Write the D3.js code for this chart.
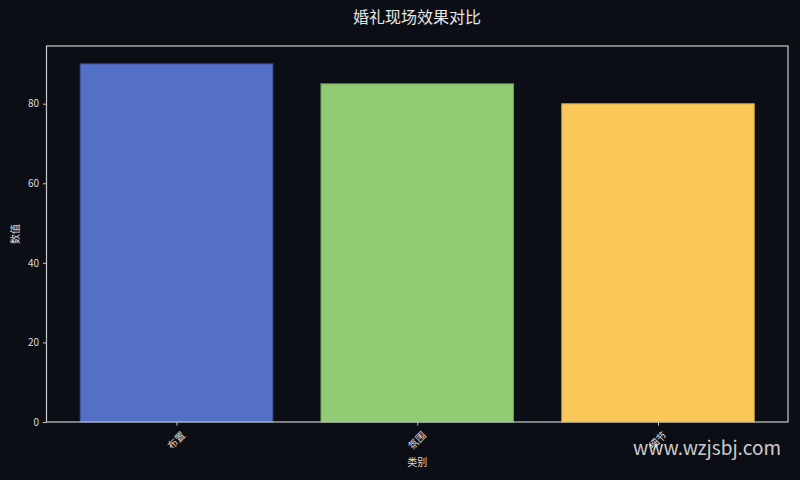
<!DOCTYPE html>
<html><head><meta charset="utf-8">
<script src="https://cdn.jsdelivr.net/npm/d3@7"></script>
<style>
html,body{margin:0;padding:0;background:#0b0e14;}
svg{display:block;}
text{font-family:"Noto Sans CJK SC","DejaVu Sans",sans-serif;}
</style></head>
<body>
<svg id="chart" width="800" height="480"></svg>
<script>
const categories = ["布置", "氛围", "细节"];
const values = [90, 85, 80];
const colors = ["#5470c6", "#91cc75", "#fac858"];
const edgeColors = ["#3f539a", "#6c9a57", "#bd9641"];
const yTicks = [0, 20, 40, 60, 80];

const W = 800, H = 480;
const m = {left: 46.5, right: 12, top: 46, bottom: 58};
const svg = d3.select("#chart");
svg.append("rect").attr("width", W).attr("height", H).attr("fill", "#0b0e14");

const pw = W - m.left - m.right, ph = H - m.top - m.bottom;
const g = svg.append("g").attr("transform", `translate(${m.left},${m.top})`);

const x = d3.scaleLinear().domain([-0.54, categories.length - 1 + 0.54]).range([0, pw]);
const y = d3.scaleLinear().domain([0, d3.max(values) * 1.05]).range([ph, 0]);
const bw = 0.8;

g.selectAll("rect.bar").data(values).join("rect")
  .attr("class", "bar")
  .attr("x", (d, i) => x(i - bw / 2))
  .attr("width", (d, i) => x(i + bw / 2) - x(i - bw / 2))
  .attr("y", d => y(d))
  .attr("height", d => y(0) - y(d))
  .attr("fill", (d, i) => colors[i])
  .attr("stroke", (d, i) => edgeColors[i])
  .attr("stroke-width", 1);

// spines
g.append("rect").attr("x", 0).attr("y", 0).attr("width", pw).attr("height", ph)
  .attr("fill", "none").attr("stroke", "#c8c8c8").attr("stroke-width", 1.2);

// y axis
const yAxis = g.append("g").call(d3.axisLeft(y).tickValues(yTicks).tickSize(3.5).tickPadding(4).tickFormat(d3.format("d")));
yAxis.select(".domain").remove();
yAxis.selectAll("line").attr("stroke", "#c8c8c8");
yAxis.selectAll("text").attr("fill", "#dcdcdc").attr("font-size", "10px").attr("font-family", "DejaVu Sans, sans-serif");

// x axis
const xAxis = g.append("g").attr("transform", `translate(0,${ph})`)
  .call(d3.axisBottom(x).tickValues(categories.map((c, i) => i)).tickSize(3.5).tickFormat(i => categories[i]));
xAxis.select(".domain").remove();
xAxis.selectAll("line").attr("stroke", "#c8c8c8");
xAxis.selectAll("text")
  .attr("fill", "#dcdcdc").attr("font-size", "10px")
  .attr("text-anchor", "middle")
  .attr("dy", null).attr("y", null)
  .attr("transform", "translate(0,19) rotate(-45)")
  .attr("dominant-baseline", "middle");

// axis labels
svg.append("text").attr("x", m.left + pw / 2).attr("y", 466).attr("text-anchor", "middle")
  .attr("fill", "#dcdcdc").attr("font-size", "10px").text("类别");
svg.append("text").attr("transform", `translate(19,${m.top + ph / 2}) rotate(-90)`).attr("text-anchor", "middle")
  .attr("fill", "#dcdcdc").attr("font-size", "10px").text("数值");

// title
svg.append("text").attr("x", W / 2 + 17).attr("y", 23).attr("text-anchor", "middle")
  .attr("fill", "#e6e6e6").attr("font-size", "16px").text("婚礼现场效果对比");

// watermark
svg.append("text").attr("x", 781).attr("y", 455).attr("text-anchor", "end")
  .attr("fill", "#ffffff").attr("fill-opacity", 0.8).attr("font-size", "19px")
  .attr("font-family", "DejaVu Sans, sans-serif").text("www.wzjsbj.com");
</script>
</body></html>
